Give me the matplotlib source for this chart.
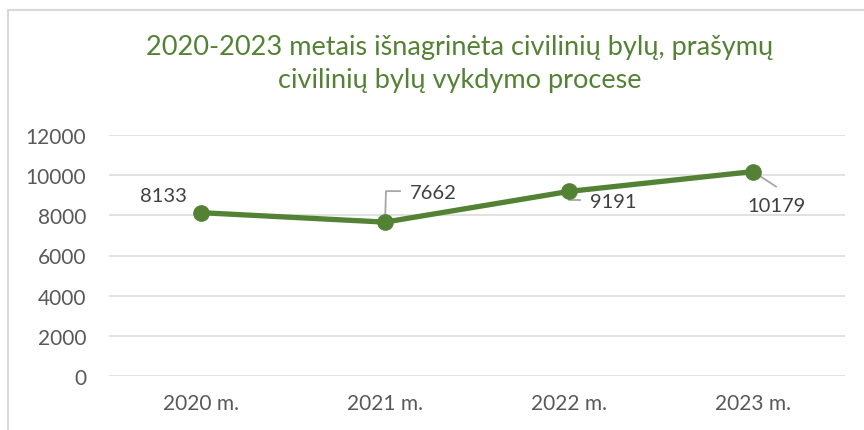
import matplotlib.pyplot as plt
from matplotlib.lines import Line2D

years = ["2020 m.", "2021 m.", "2022 m.", "2023 m."]
cases = [8133, 7662, 9191, 10179]
y_ticks = [0, 2000, 4000, 6000, 8000, 10000, 12000]

title = "2020-2023 metais išnagrinėta civilinių bylų, prašymų\ncivilinių bylų vykdymo procese"

GREEN = "#548235"
GRID = "#d9d9d9"
FONT = ["Lato", "DejaVu Sans"]

# label offsets (pixels) and leader line paths relative to each point
label_offsets = [(-38, 17), (48, 30), (44, -10), (23, -34)]
leaders = [None, [(0, 0), (1, 31), (15, 31)], [(0, 0), (0, -9), (11, -9)], [(0, 0), (23, -15)]]

plt.rcParams["font.family"] = FONT

fig = plt.figure(figsize=(8.64, 4.31), dpi=100)
ax = fig.add_axes([109 / 864, 1 - 377 / 431, 736 / 864, 241 / 431])

x = list(range(len(years)))
ax.set_xlim(-0.5, len(years) - 0.5)
ax.set_ylim(0, 12000)
ax.set_yticks(y_ticks)
ax.set_yticklabels([str(v) for v in y_ticks])
ax.set_xticks(x)
ax.set_xticklabels(years)
ax.grid(axis="y", color=GRID, linewidth=1.1)
ax.set_axisbelow(True)
for s in ax.spines.values():
    s.set_visible(False)
ax.tick_params(length=0, labelsize=15, colors="#595959")
ax.tick_params(axis="y", pad=16.5)
ax.tick_params(axis="x", pad=12)

# leader lines from points to the displaced labels
for i, (xi, v) in enumerate(zip(x, cases)):
    lead = leaders[i]
    if lead:
        base = ax.transData.transform((xi, v))
        pts = [(base[0] + a, base[1] + b) for a, b in lead]
        ax.add_line(Line2D([p[0] for p in pts], [p[1] for p in pts], transform=None,
                           color="#a6a6a6", linewidth=1.3, zorder=2))

ax.plot(x, cases, color=GREEN, linewidth=3.8, marker="o", markersize=11,
        solid_capstyle="round", zorder=3)

for i, (xi, v) in enumerate(zip(x, cases)):
    dx, dy = label_offsets[i]
    ax.annotate(str(v), (xi, v), xytext=(dx, dy), textcoords="offset pixels",
                ha="center", va="center", fontsize=14.5, color="#404040")

fig.text(460 / 864, 1 - 64 / 431, title, ha="center", va="center", color=GREEN,
         fontsize=19.5, linespacing=1.42)

# chart frame (only top and left edges are visible in the crop)
fig.add_artist(Line2D([8 / 864, 8 / 864], [0, 1 - 11 / 431], color=GRID, linewidth=1.5))
fig.add_artist(Line2D([8 / 864, 1], [1 - 11 / 431, 1 - 11 / 431], color=GRID, linewidth=1.5))

fig.savefig("out.png", dpi=100)
